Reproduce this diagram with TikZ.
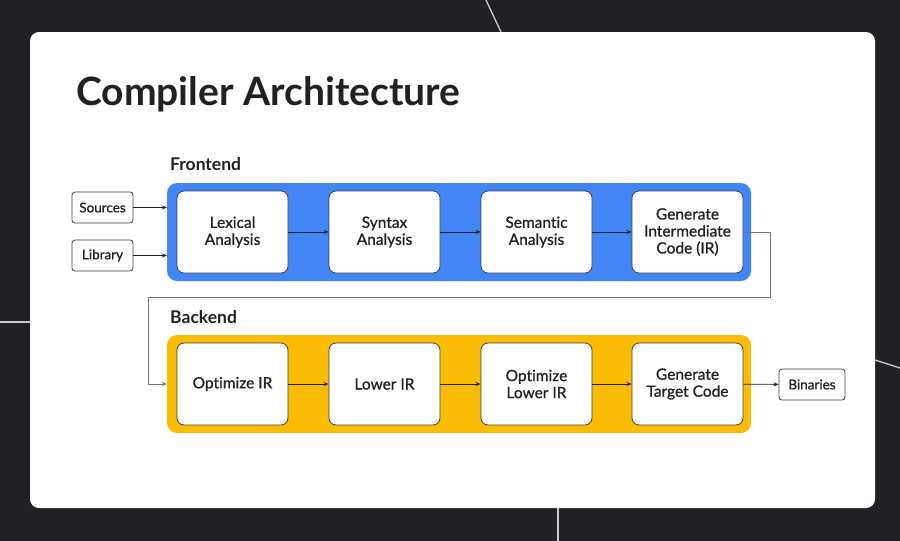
\documentclass[tikz,border=0pt]{standalone}
\usepackage{fontspec}
\setmainfont{Lato}[Ligatures=NoCommon]
\newfontfamily\medfont{Lato}[Ligatures=NoCommon,FakeBold=0.9]
\usetikzlibrary{arrows.meta,positioning}
\definecolor{bgdark}{HTML}{202124}
\definecolor{gblue}{HTML}{4285F4}
\definecolor{gyellow}{HTML}{FBBC04}
\definecolor{edge}{HTML}{3C4043}
\definecolor{wire}{HTML}{757575}
\definecolor{inkdark}{HTML}{202124}

\begin{document}
\begin{tikzpicture}[x=1pt,y=-1pt,
  stage/.style={draw=edge,line width=0.8pt,fill=white,rounded corners=7pt,minimum width=111pt,minimum height=82pt,
    inner sep=2pt,align=center,text=inkdark,font=\medfont\fontsize{15.5}{17}\selectfont},
  io/.style={draw=edge,line width=0.8pt,fill=white,rounded corners=3pt,minimum height=31pt,inner sep=0pt,
    text=inkdark,font=\medfont\fontsize{13.5}{15}\selectfont},
  panel/.style={rounded corners=10pt,minimum width=584pt,minimum height=98pt,inner sep=0pt},
  flow/.style={-{Stealth[length=5pt,width=4pt]},line width=0.8pt,inkdark},
  deco/.style={white!80!black,line width=1.3pt}]

  % Background and card
  \fill[bgdark] (0,0) rectangle (900,541);
  \useasboundingbox (0,0) rectangle (900,541);
  \draw[deco] (486,0) -- (501,32);
  \draw[deco] (0,322) -- (30,322);
  \draw[deco] (875,360) -- (900,368);
  \draw[deco] (558,508) -- (558,541);
  \fill[white,rounded corners=9pt] (30,32) rectangle (875,508);

  % Title and group labels
  \node[anchor=base west,inner sep=0pt,text=inkdark,font=\fontsize{39}{42}\selectfont\bfseries] (title) at (76,105) {Compiler Architecture};
  \node[anchor=base west,inner sep=0pt,text=inkdark,font=\fontsize{17.5}{19}\selectfont\bfseries] (frontlbl) at (170,170) {Frontend};
  \node[anchor=base west,inner sep=0pt,text=inkdark,font=\fontsize{17.5}{19}\selectfont\bfseries] (backlbl) at (170,323) {Backend};

  % Panels
  \node[panel,fill=gblue] (frontend) at (459,232) {};
  \node[panel,fill=gyellow] (backend) at (459,384) {};

  % Frontend stages
  \node[stage] (lexical) at (232.5,232) {Lexical\\Analysis};
  \node[stage] (syntax) at (384.5,232) {Syntax\\Analysis};
  \node[stage] (semantic) at (536.5,232) {Semantic\\Analysis};
  \node[stage] (genir) at (687.5,232) {Generate\\Intermediate\\Code (IR)};

  % Backend stages
  \node[stage] (optir) at (232.5,384) {Optimize IR};
  \node[stage] (lowerir) at (384.5,384) {Lower IR};
  \node[stage] (optlower) at (536.5,384) {Optimize\\Lower IR};
  \node[stage] (gentarget) at (687.5,384) {Generate\\Target Code};

  % Inputs and output
  \node[io,minimum width=61pt] (sources) at (102.5,207.5) {Sources};
  \node[io,minimum width=61pt] (library) at (102.5,255.5) {Library};
  \node[io,minimum width=66pt] (binaries) at (812,384.5) {Binaries};

  % Arrows
  \draw[flow] (sources.east) -- (sources.east -| frontend.west);
  \draw[flow] (library.east) -- (library.east -| frontend.west);
  \draw[flow] (lexical) -- (syntax);
  \draw[flow] (syntax) -- (semantic);
  \draw[flow] (semantic) -- (genir);
  \draw[flow] (optir) -- (lowerir);
  \draw[flow] (lowerir) -- (optlower);
  \draw[flow] (optlower) -- (gentarget);
  \draw[flow] (gentarget) -- (binaries);

  % Frontend to backend
  \coordinate (turnA) at (770,297);
  \coordinate (turnB) at (148,297);
  \draw[flow,wire,line width=1pt] (genir.east) -| (turnA) -- (turnB) |- (backend.west);
\end{tikzpicture}
\end{document}
